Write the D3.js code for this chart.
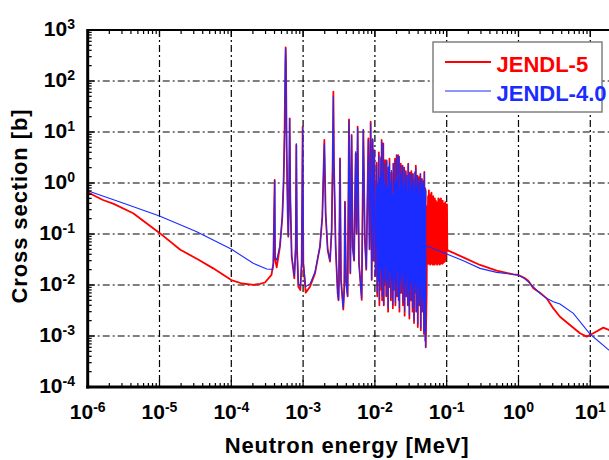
<!DOCTYPE html>
<html>
<head>
<meta charset="utf-8">
<script src="https://cdn.jsdelivr.net/npm/d3@7/dist/d3.min.js"></script>
<style>
  body { margin: 0; background: #fff; }
  svg { display: block; }
  text { font-family: "Liberation Sans", Arial, Helvetica, sans-serif; font-weight: bold; }
</style>
</head>
<body>
<svg id="chart" width="609" height="460"></svg>
<script>
// energies in MeV, cross sections in barns

// 1/v part below the first resonance
const lowJendl5 = [
  [1e-6, 0.66], [1.6e-6, 0.47], [2.3e-6, 0.39], [4.3e-6, 0.255], [1e-5, 0.105],
  [1.95e-5, 0.049], [3.55e-5, 0.031], [5.6e-5, 0.0212], [1e-4, 0.0125],
  [1.41e-4, 0.0107], [2.04e-4, 0.0101], [2.51e-4, 0.0105], [2.94e-4, 0.0112],
  [3.63e-4, 0.0158]
];
const lowJendl4 = [
  [1e-6, 0.706], [3.16e-6, 0.4], [1e-5, 0.225], [3.3e-5, 0.111], [1.01e-4, 0.0501],
  [2.02e-4, 0.0266], [3.11e-4, 0.0206], [3.78e-4, 0.0203]
];

// isolated resonances: [energy, JENDL-5, JENDL-4.0]
const isolated = [
  [3.85e-4, 0.0266, 0.025], [4.02e-4, 1.15, 1.15], [4.07e-4, 0.0316, 0.035],
  [4.29e-4, 0.0222, 0.031], [4.76e-4, 0.0565, 0.06], [5.14e-4, 0.219, 0.22],
  [5.36e-4, 1.15, 1.15], [5.53e-4, 11, 11], [5.66e-4, 222, 222], [5.71e-4, 457, 440],
  [5.78e-4, 222, 222], [5.9e-4, 5.15, 5.15], [6.1e-4, 0.254, 0.254], [6.22e-4, 0.0887, 0.09],
  [6.37e-4, 0.54, 0.54], [6.5e-4, 18.5, 18.5], [6.64e-4, 0.54, 0.54], [6.93e-4, 0.036, 0.04],
  [7.55e-4, 0.0135, 0.0146], [7.89e-4, 0.0565, 0.06], [8.05e-4, 5.56, 6.0], [8.22e-4, 0.0565, 0.06],
  [8.59e-4, 0.00927, 0.0105], [9.16e-4, 0.00798, 0.0095], [9.55e-4, 0.0266, 0.028],
  [9.86e-4, 12.7, 12.7], [1.007e-3, 0.0266, 0.028], [1.087e-3, 0.00708, 0.0093],
  [1.247e-3, 0.00927, 0.0105], [1.466e-3, 0.0169, 0.018], [1.718e-3, 0.0565, 0.058],
  [1.853e-3, 0.219, 0.22], [1.977e-3, 6.97, 6.0], [2.06e-3, 0.254, 0.254], [2.2e-3, 0.0485, 0.05],
  [2.37e-3, 0.0287, 0.03], [2.5e-3, 0.12, 0.12], [2.58e-3, 2.43, 2.43], [2.64e-3, 61.8, 50],
  [2.69e-3, 2.43, 2.43], [2.84e-3, 0.0565, 0.0565], [3.03e-3, 0.00687, 0.007],
  [3.12e-3, 0.005, 0.005], [3.16e-3, 0.0126, 0.0126], [3.27e-3, 3.05, 3.0], [3.37e-3, 0.0126, 0.0126],
  [3.63e-3, 0.0033, 0.0035], [3.75e-3, 0.0093, 0.0093], [3.83e-3, 0.43, 0.43], [3.96e-3, 0.0126, 0.0126],
  [4.17e-3, 0.006, 0.006], [4.36e-3, 17.7, 17.0], [4.55e-3, 0.017, 0.017], [4.74e-3, 8.73, 8.5],
  [4.9e-3, 0.056, 0.056], [5.13e-3, 0.03, 0.03], [5.4e-3, 3.8, 4.2], [5.56e-3, 0.1, 0.1],
  [5.75e-3, 12.7, 12.0], [6e-3, 0.027, 0.027], [6.55e-3, 0.0051, 0.0055], [6.9e-3, 10.9, 11.5],
  [7.24e-3, 0.08, 0.08], [7.59e-3, 0.02, 0.02], [8.11e-3, 7.5, 7.0], [8.41e-3, 0.05, 0.05],
  [8.73e-3, 15.9, 15.0], [9.02e-3, 0.0126, 0.0126], [9.31e-3, 7.0, 7.5], [9.55e-3, 0.03, 0.03],
  [9.82e-3, 4.4, 4.4], [1.02e-2, 0.015, 0.015]
];

// dense resolved region: [energy, peak J5, peak J4, trough after J5, trough after J4]
const dense = [
  [1.059e-2, 2.5, 2.3, 0.006, 0.007], [1.096e-2, 0.9, 0.9, 0.012, 0.012],
  [1.135e-2, 4.0, 3.6, 0.004, 0.005], [1.175e-2, 1.2, 1.3, 0.02, 0.02],
  [1.216e-2, 3.2, 3.0, 0.008, 0.009], [1.242e-2, 7.0, 6.5, 0.005, 0.006],
  [1.279e-2, 1.5, 1.6, 0.015, 0.014], [1.309e-2, 6.0, 6.0, 0.004, 0.004],
  [1.349e-2, 0.8, 0.9, 0.01, 0.011], [1.384e-2, 2.8, 2.5, 0.025, 0.022],
  [1.422e-2, 1.1, 1.1, 0.006, 0.006], [1.459e-2, 2.7, 2.9, 0.012, 0.012],
  [1.507e-2, 0.7, 0.8, 0.003, 0.0035], [1.549e-2, 2.0, 2.1, 0.009, 0.009],
  [1.596e-2, 3.0, 2.6, 0.02, 0.018], [1.641e-2, 1.0, 1.0, 0.005, 0.0055],
  [1.698e-2, 1.6, 1.8, 0.012, 0.012], [1.75e-2, 0.6, 0.6, 0.0035, 0.004],
  [1.807e-2, 2.4, 2.4, 0.008, 0.008], [1.862e-2, 1.3, 1.2, 0.015, 0.014],
  [1.905e-2, 3.0, 2.8, 0.004, 0.0045], [1.959e-2, 0.9, 1.0, 0.01, 0.01],
  [2.009e-2, 3.5, 3.6, 0.006, 0.006], [2.061e-2, 1.2, 1.2, 0.02, 0.018],
  [2.118e-2, 3.5, 3.3, 0.005, 0.005], [2.168e-2, 3.3, 3.4, 0.003, 0.0035],
  [2.228e-2, 0.8, 0.8, 0.012, 0.012], [2.291e-2, 2.4, 2.2, 0.007, 0.007],
  [2.36e-2, 1.4, 1.5, 0.018, 0.016], [2.427e-2, 2.2, 2.2, 0.004, 0.0045],
  [2.495e-2, 0.9, 0.9, 0.009, 0.009], [2.559e-2, 2.0, 1.9, 0.0025, 0.003],
  [2.63e-2, 1.0, 1.1, 0.011, 0.011], [2.698e-2, 1.7, 1.6, 0.006, 0.006],
  [2.767e-2, 1.4, 1.4, 0.015, 0.014], [2.838e-2, 0.7, 0.7, 0.004, 0.004],
  [2.911e-2, 2.4, 2.3, 0.008, 0.008], [2.985e-2, 1.1, 1.2, 0.0022, 0.0025],
  [3.062e-2, 1.6, 1.6, 0.01, 0.01], [3.141e-2, 0.8, 0.8, 0.005, 0.005],
  [3.221e-2, 1.7, 1.5, 0.013, 0.012], [3.296e-2, 0.9, 0.9, 0.003, 0.0035],
  [3.388e-2, 1.5, 1.5, 0.009, 0.009], [3.467e-2, 1.2, 1.1, 0.0018, 0.002],
  [3.548e-2, 0.7, 0.7, 0.007, 0.007], [3.631e-2, 1.6, 1.7, 0.012, 0.011],
  [3.715e-2, 2.2, 2.0, 0.003, 0.003], [3.819e-2, 0.9, 0.9, 0.008, 0.008],
  [3.908e-2, 1.4, 1.4, 0.0015, 0.0017], [4.009e-2, 1.0, 1.0, 0.01, 0.01],
  [4.111e-2, 1.3, 1.2, 0.004, 0.004], [4.207e-2, 0.6, 0.6, 0.006, 0.006],
  [4.305e-2, 1.5, 1.5, 0.0013, 0.0014], [4.416e-2, 0.8, 0.8, 0.009, 0.009],
  [4.519e-2, 1.2, 1.2, 0.003, 0.003], [4.624e-2, 0.9, 0.9, 0.005, 0.005],
  [4.764e-2, 1.1, 1.1, 0.0011, 0.0012], [4.887e-2, 1.65, 1.6, 0.004, 0.004],
  [4.989e-2, 0.8, 0.8, 0.0008, 0.0008], [5.093e-2, 0.73, 0.7, 0.0006, 0.0006]
];

// JENDL-5 fluctuating region between 0.05 and 0.1 MeV
const urrJendl5 = [
  [5.26e-2, 0.007], [5.35e-2, 0.35], [5.42e-2, 0.028], [5.5e-2, 0.55], [5.57e-2, 0.026],
  [5.65e-2, 0.72], [5.73e-2, 0.027], [5.81e-2, 0.6], [5.89e-2, 0.025], [5.97e-2, 0.45],
  [6.05e-2, 0.026], [6.14e-2, 0.65], [6.22e-2, 0.027], [6.31e-2, 0.4], [6.4e-2, 0.025],
  [6.49e-2, 0.55], [6.58e-2, 0.026], [6.67e-2, 0.35], [6.76e-2, 0.025], [6.85e-2, 0.5],
  [6.95e-2, 0.027], [7.05e-2, 0.45], [7.14e-2, 0.026], [7.24e-2, 0.3], [7.35e-2, 0.025],
  [7.45e-2, 0.42], [7.55e-2, 0.026], [7.66e-2, 0.5], [7.76e-2, 0.027], [7.87e-2, 0.48],
  [7.98e-2, 0.025], [8.09e-2, 0.38], [8.2e-2, 0.026], [8.32e-2, 0.5], [8.43e-2, 0.028],
  [8.55e-2, 0.4], [8.67e-2, 0.026], [8.79e-2, 0.45], [8.91e-2, 0.027], [9.04e-2, 0.37],
  [9.16e-2, 0.028], [9.29e-2, 0.4], [9.42e-2, 0.029], [9.55e-2, 0.42], [9.68e-2, 0.03],
  [9.82e-2, 0.35], [9.95e-2, 0.04], [1.009e-1, 0.38], [1.02e-1, 0.05]
];

// smooth part above the resonances
const highJendl5 = [
  [0.1054, 0.0471], [0.1706, 0.0349], [0.291, 0.0247], [0.497, 0.0191], [0.847, 0.0162],
  [0.995, 0.0157], [1.2, 0.0138], [1.371, 0.01216], [1.61, 0.0086], [1.99, 0.00708],
  [2.466, 0.00547], [3.055, 0.00348], [3.784, 0.00239], [5.21, 0.00164], [7.19, 0.00113],
  [8.91, 0.00097], [11.0, 0.00113], [15.2, 0.00146], [18.2, 0.00131], [20, 0.00118]
];
const highJendl4 = [
  [5.12e-2, 0.061], [5.26e-2, 0.0582], [0.1, 0.0406], [0.1706, 0.03], [0.291, 0.0212],
  [0.497, 0.0177], [0.995, 0.0157], [1.2, 0.0135], [1.445, 0.0108], [1.99, 0.00687],
  [2.466, 0.00547], [3.055, 0.00471], [3.784, 0.00424], [5.81, 0.00278], [9.99, 0.00108],
  [18.2, 0.00053], [20, 0.00047]
];

const xDecades = [-6, -5, -4, -3, -2, -1, 0, 1];
const yDecades = [-4, -3, -2, -1, 0, 1, 2, 3];

const seriesNames = ["JENDL-5", "JENDL-4.0"];
const seriesColors = ["#ff0000", "#1a2cff"];

// assemble the two curves
function denseRun(col, tcol) {
  const pts = [];
  dense.forEach((d, i) => {
    pts.push([d[0], d[col]]);
    const eNext = i < dense.length - 1 ? dense[i + 1][0] : d[0] * 1.004;
    pts.push([Math.sqrt(d[0] * eNext), d[tcol]]);
  });
  return pts;
}
const jendl5 = [].concat(
  lowJendl5,
  isolated.map((d) => [d[0], d[1]]),
  denseRun(1, 3),
  urrJendl5,
  highJendl5
);
const jendl4 = [].concat(
  lowJendl4,
  isolated.map((d) => [d[0], d[2]]),
  denseRun(2, 4),
  highJendl4
);

const svg = d3.select("#chart");
const pLeft = 87.7, pRight = 611.9, pTop = 30, pBottom = 387;

const x = d3.scaleLog().domain([1e-6, 20]).range([pLeft, pRight]);
const y = d3.scaleLog().domain([1e-4, 1e3]).range([pBottom, pTop]);

svg.append("defs").append("clipPath").attr("id", "plotclip")
  .append("rect").attr("x", pLeft).attr("y", pTop)
  .attr("width", pRight - pLeft).attr("height", pBottom - pTop);

// grid
const grid = svg.append("g")
  .attr("stroke", "#000").attr("stroke-width", 1.2)
  .attr("stroke-dasharray", "7,3,2,3");
grid.selectAll(".gx").data(xDecades.slice(1)).join("line")
  .attr("x1", (d) => x(Math.pow(10, d))).attr("x2", (d) => x(Math.pow(10, d)))
  .attr("y1", pTop).attr("y2", pBottom);
grid.selectAll(".gy").data(yDecades.slice(1, -1)).join("line")
  .attr("y1", (d) => y(Math.pow(10, d))).attr("y2", (d) => y(Math.pow(10, d)))
  .attr("x1", pLeft).attr("x2", pRight);

// curves
const line = d3.line().x((d) => x(d[0])).y((d) => y(d[1]));
const plot = svg.append("g").attr("clip-path", "url(#plotclip)");
plot.append("path").datum(jendl5)
  .attr("fill", "none").attr("stroke", seriesColors[0])
  .attr("stroke-width", 1.8).attr("stroke-linejoin", "round")
  .attr("d", line);
plot.append("path").datum(jendl4)
  .attr("fill", "none").attr("stroke", seriesColors[1])
  .attr("stroke-width", 1.1)
  .attr("d", line);

// ticks
const ticks = svg.append("g").attr("stroke", "#000").attr("stroke-width", 1.2);
const xMinor = [], yMinor = [];
xDecades.forEach((p) => {
  for (let k = 2; k <= 9; k++) if (k * Math.pow(10, p) <= 20) xMinor.push(k * Math.pow(10, p));
});
yDecades.slice(0, -1).forEach((p) => {
  for (let k = 2; k <= 9; k++) yMinor.push(k * Math.pow(10, p));
});
xMinor.forEach((v) => {
  ticks.append("line").attr("x1", x(v)).attr("x2", x(v)).attr("y1", pBottom).attr("y2", pBottom - 4);
  ticks.append("line").attr("x1", x(v)).attr("x2", x(v)).attr("y1", pTop).attr("y2", pTop + 4);
});
xDecades.forEach((p) => {
  const v = x(Math.pow(10, p));
  ticks.append("line").attr("x1", v).attr("x2", v).attr("y1", pBottom).attr("y2", pBottom - 7);
  ticks.append("line").attr("x1", v).attr("x2", v).attr("y1", pTop).attr("y2", pTop + 7);
});
yMinor.forEach((v) => {
  ticks.append("line").attr("y1", y(v)).attr("y2", y(v)).attr("x1", pLeft).attr("x2", pLeft + 4);
});
yDecades.forEach((p) => {
  const v = y(Math.pow(10, p));
  ticks.append("line").attr("y1", v).attr("y2", v).attr("x1", pLeft).attr("x2", pLeft + 7);
});

// frame
svg.append("line").attr("x1", pLeft).attr("x2", pRight).attr("y1", pTop).attr("y2", pTop)
  .attr("stroke", "#000").attr("stroke-width", 2);
svg.append("line").attr("x1", pRight).attr("x2", pRight).attr("y1", pTop).attr("y2", pBottom)
  .attr("stroke", "#000").attr("stroke-width", 2);
svg.append("line").attr("x1", pLeft).attr("x2", pLeft).attr("y1", pTop - 1).attr("y2", pBottom + 1.5)
  .attr("stroke", "#000").attr("stroke-width", 3);
svg.append("line").attr("x1", pLeft - 1.5).attr("x2", pRight).attr("y1", pBottom).attr("y2", pBottom)
  .attr("stroke", "#000").attr("stroke-width", 3);

// tick labels
function powLabel(sel, p) {
  sel.append("tspan").text("10");
  sel.append("tspan").attr("font-size", 14).attr("dy", -7).text(String(p));
}
xDecades.forEach((p) => {
  svg.append("text").attr("x", x(Math.pow(10, p))).attr("y", 419)
    .attr("text-anchor", "middle").attr("font-size", 21)
    .call(powLabel, p);
});
yDecades.forEach((p) => {
  svg.append("text").attr("x", 75).attr("y", y(Math.pow(10, p)) + 5.5)
    .attr("text-anchor", "end").attr("font-size", 21)
    .call(powLabel, p);
});

// axis titles
svg.append("text").attr("x", 347).attr("y", 453)
  .attr("text-anchor", "middle").attr("font-size", 22).attr("letter-spacing", 0.8)
  .text("Neutron energy [MeV]");
svg.append("text").attr("transform", "translate(26.5,206) rotate(-90)")
  .attr("text-anchor", "middle").attr("font-size", 22).attr("letter-spacing", 0.9)
  .text("Cross section [b]");

// legend
const legend = svg.append("g");
legend.append("rect").attr("x", 433).attr("y", 42).attr("width", 169).attr("height", 70)
  .attr("fill", "#fff").attr("stroke", "#808080").attr("stroke-width", 1.5);
seriesNames.forEach((name, i) => {
  const ly = i === 0 ? 62 : 91;
  legend.append("line").attr("x1", 445).attr("x2", 491).attr("y1", ly).attr("y2", ly)
    .attr("stroke", seriesColors[i]).attr("stroke-width", i === 0 ? 2 : 1);
  legend.append("text").attr("x", 496.5).attr("y", ly + 9.5)
    .attr("font-size", 22).attr("fill", seriesColors[i]).text(name);
});
</script>
</body>
</html>
